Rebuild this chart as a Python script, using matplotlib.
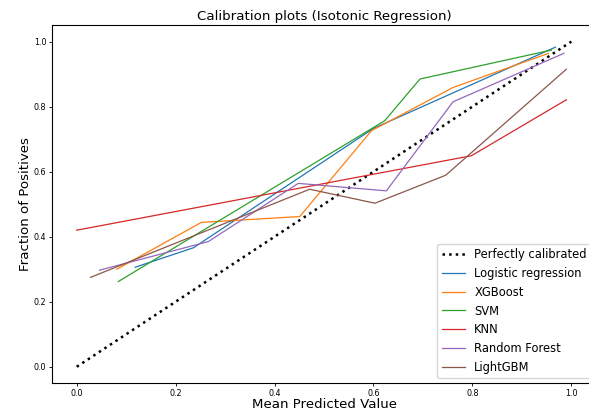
import matplotlib
matplotlib.use("Agg")
import matplotlib.pyplot as plt

# Data (mean predicted value, fraction of positives)
lr_x = [0.118, 0.236, 0.600, 0.968]
lr_y = [0.306, 0.366, 0.733, 0.983]

xgb_x = [0.081, 0.252, 0.451, 0.596, 0.761, 0.954]
xgb_y = [0.300, 0.444, 0.462, 0.726, 0.859, 0.964]

svm_x = [0.084, 0.623, 0.694, 0.960]
svm_y = [0.262, 0.757, 0.885, 0.974]

knn_x = [0.000, 0.798, 0.990]
knn_y = [0.420, 0.649, 0.821]

rf_x = [0.046, 0.266, 0.448, 0.626, 0.761, 0.985]
rf_y = [0.297, 0.385, 0.564, 0.541, 0.815, 0.964]

lgbm_x = [0.028, 0.471, 0.603, 0.746, 0.990]
lgbm_y = [0.275, 0.546, 0.503, 0.589, 0.915]

series = [
    ("Logistic regression", lr_x, lr_y, "tab:blue"),
    ("XGBoost", xgb_x, xgb_y, "tab:orange"),
    ("SVM", svm_x, svm_y, "tab:green"),
    ("KNN", knn_x, knn_y, "tab:red"),
    ("Random Forest", rf_x, rf_y, "tab:purple"),
    ("LightGBM", lgbm_x, lgbm_y, "tab:brown"),
]

fig = plt.figure(figsize=(5.89, 4.13), dpi=100)
ax = fig.add_axes([0.0883, 0.0726, 0.9236, 0.866])

ax.plot([0, 1], [0, 1], "k:", linewidth=1.8, label="Perfectly calibrated")
for name, xs, ys, c in series:
    ax.plot(xs, ys, color=c, linewidth=0.9, label=name)

ax.set_title("Calibration plots (Isotonic Regression)", fontsize=9.6, pad=4)
ax.set_xlabel("Mean Predicted Value", fontsize=9.6, labelpad=0)
ax.set_ylabel("Fraction of Positives", fontsize=9.6, labelpad=1)
ax.tick_params(labelsize=5.8, pad=2, length=2.2, width=0.6)
for s in ax.spines.values():
    s.set_linewidth(0.8)
ax.legend(loc="lower right", fontsize=8.3, borderaxespad=0.4, labelspacing=0.5)

fig.savefig("out.png", dpi=100)
